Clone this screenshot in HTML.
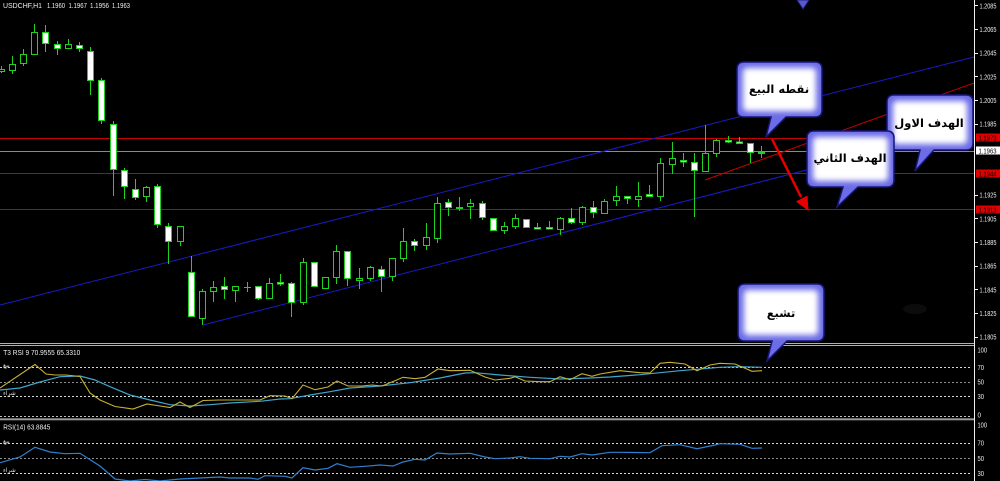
<!DOCTYPE html>
<html><head><meta charset="utf-8"><style>
html,body{margin:0;padding:0;background:#000;}
svg{display:block;}
.ax{font-family:"Liberation Sans",sans-serif;font-size:7.5px;fill:#f0f0f0;}
.ar{font-family:"DejaVu Sans",sans-serif;font-weight:bold;font-size:11.5px;fill:#000;}
.ars{font-family:"DejaVu Sans",sans-serif;font-size:6px;fill:#ddd;}
</style></head><body>
<svg width="1000" height="481" viewBox="0 0 1000 481" xmlns="http://www.w3.org/2000/svg">
<defs>
<filter id="b" x="-30%" y="-30%" width="160%" height="160%"><feGaussianBlur stdDeviation="3"/></filter>
<clipPath id="main"><rect x="0" y="0" width="974" height="343"/></clipPath>
</defs>
<rect width="1000" height="481" fill="#000"/>

<text class="ax" x="3" y="8" textLength="39" lengthAdjust="spacingAndGlyphs">USDCHF,H1</text>
<text class="ax" x="47" y="8" textLength="18" lengthAdjust="spacingAndGlyphs">1.1960</text>
<text class="ax" x="68.5" y="8" textLength="18.5" lengthAdjust="spacingAndGlyphs">1.1967</text>
<text class="ax" x="90" y="8" textLength="19" lengthAdjust="spacingAndGlyphs">1.1956</text>
<text class="ax" x="112" y="8" textLength="18" lengthAdjust="spacingAndGlyphs">1.1963</text>

<g clip-path="url(#main)">
<line x1="0" y1="138.5" x2="974" y2="138.5" stroke="#c40000" stroke-width="1"/>
<line x1="0" y1="151.5" x2="974" y2="151.5" stroke="#8a8a8a" stroke-width="1"/>
<line x1="0" y1="173.5" x2="974" y2="173.5" stroke="#c40000" stroke-width="1"/>
<line x1="0" y1="209.5" x2="974" y2="209.5" stroke="#c40000" stroke-width="1"/>
<line x1="0" y1="305" x2="974" y2="57" stroke="#1a1ac8" stroke-width="1"/>
<line x1="203" y1="325" x2="974" y2="127" stroke="#1a1ac8" stroke-width="1"/>
<line x1="705" y1="180" x2="974" y2="83" stroke="#c40000" stroke-width="1"/>
<ellipse cx="915" cy="309" rx="12" ry="5" fill="#0c0c0c"/>

<g stroke="#1ed21e" stroke-width="1">
<line x1="1.5" y1="66" x2="1.5" y2="73"/>
<line x1="12.5" y1="56" x2="12.5" y2="74"/>
<line x1="23.5" y1="49" x2="23.5" y2="66"/>
<line x1="34.5" y1="24" x2="34.5" y2="55"/>
<line x1="45.5" y1="25" x2="45.5" y2="52"/>
<line x1="57.5" y1="41" x2="57.5" y2="55"/>
<line x1="68.5" y1="39" x2="68.5" y2="49"/>
<line x1="79.5" y1="42" x2="79.5" y2="52"/>
<line x1="90.5" y1="47" x2="90.5" y2="95"/>
<line x1="101.5" y1="78" x2="101.5" y2="124"/>
<line x1="113.5" y1="121" x2="113.5" y2="196"/>
<line x1="124.5" y1="168" x2="124.5" y2="199"/>
<line x1="135.5" y1="179" x2="135.5" y2="200"/>
<line x1="146.5" y1="186" x2="146.5" y2="202"/>
<line x1="157.5" y1="184" x2="157.5" y2="228"/>
<line x1="168.5" y1="223" x2="168.5" y2="264"/>
<line x1="180.5" y1="226" x2="180.5" y2="246"/>
<line x1="191.5" y1="256" x2="191.5" y2="317"/>
<line x1="202.5" y1="289" x2="202.5" y2="325"/>
<line x1="213.5" y1="281" x2="213.5" y2="302"/>
<line x1="224.5" y1="277" x2="224.5" y2="299"/>
<line x1="235.5" y1="286" x2="235.5" y2="302"/>
<line x1="247.5" y1="282" x2="247.5" y2="292"/>
<line x1="258.5" y1="286" x2="258.5" y2="300"/>
<line x1="269.5" y1="278" x2="269.5" y2="299"/>
<line x1="280.5" y1="274" x2="280.5" y2="286"/>
<line x1="291.5" y1="282" x2="291.5" y2="317"/>
<line x1="303.5" y1="258" x2="303.5" y2="305"/>
<line x1="314.5" y1="262" x2="314.5" y2="287"/>
<line x1="325.5" y1="277" x2="325.5" y2="289"/>
<line x1="336.5" y1="245" x2="336.5" y2="284"/>
<line x1="347.5" y1="251" x2="347.5" y2="286"/>
<line x1="359.5" y1="268" x2="359.5" y2="289"/>
<line x1="370.5" y1="266" x2="370.5" y2="281"/>
<line x1="381.5" y1="266" x2="381.5" y2="292"/>
<line x1="392.5" y1="258" x2="392.5" y2="281"/>
<line x1="403.5" y1="228" x2="403.5" y2="262"/>
<line x1="414.5" y1="239" x2="414.5" y2="251"/>
<line x1="426.5" y1="223" x2="426.5" y2="250"/>
<line x1="437.5" y1="197" x2="437.5" y2="243"/>
<line x1="448.5" y1="199" x2="448.5" y2="216"/>
<line x1="459.5" y1="197" x2="459.5" y2="211"/>
<line x1="470.5" y1="199" x2="470.5" y2="219"/>
<line x1="482.5" y1="201" x2="482.5" y2="220"/>
<line x1="493.5" y1="218" x2="493.5" y2="231"/>
<line x1="504.5" y1="222" x2="504.5" y2="234"/>
<line x1="515.5" y1="214" x2="515.5" y2="229"/>
<line x1="526.5" y1="219" x2="526.5" y2="228"/>
<line x1="537.5" y1="223" x2="537.5" y2="229"/>
<line x1="549.5" y1="221" x2="549.5" y2="229"/>
<line x1="560.5" y1="217" x2="560.5" y2="235"/>
<line x1="571.5" y1="208" x2="571.5" y2="224"/>
<line x1="582.5" y1="206" x2="582.5" y2="225"/>
<line x1="593.5" y1="201" x2="593.5" y2="218"/>
<line x1="604.5" y1="199" x2="604.5" y2="214"/>
<line x1="616.5" y1="186" x2="616.5" y2="206"/>
<line x1="627.5" y1="196" x2="627.5" y2="204"/>
<line x1="638.5" y1="182" x2="638.5" y2="207"/>
<line x1="649.5" y1="185" x2="649.5" y2="197"/>
<line x1="660.5" y1="158" x2="660.5" y2="201"/>
<line x1="672.5" y1="142" x2="672.5" y2="174"/>
<line x1="683.5" y1="153" x2="683.5" y2="167"/>
<line x1="694.5" y1="153" x2="694.5" y2="217"/>
<line x1="705.5" y1="125" x2="705.5" y2="172"/>
<line x1="716.5" y1="139" x2="716.5" y2="157"/>
<line x1="728.5" y1="136" x2="728.5" y2="143"/>
<line x1="739.5" y1="137" x2="739.5" y2="144"/>
<line x1="750.5" y1="143" x2="750.5" y2="163"/>
<line x1="761.5" y1="146" x2="761.5" y2="158"/>
<line x1="244" y1="287.5" x2="251" y2="287.5"/>
</g>
<g stroke="#1ed21e" stroke-width="1" fill="#000">
<rect x="-1.5" y="69.5" width="6" height="2"/>
<rect x="9.5" y="64.5" width="6" height="6"/>
<rect x="20.5" y="54.5" width="6" height="9"/>
<rect x="31.5" y="32.5" width="6" height="22"/>
<rect x="65.5" y="44.5" width="6" height="4"/>
<rect x="143.5" y="187.5" width="6" height="9"/>
<rect x="177.5" y="226.5" width="6" height="15"/>
<rect x="199.5" y="291.5" width="6" height="27"/>
<rect x="210.5" y="287.5" width="6" height="4"/>
<rect x="232.5" y="286.5" width="6" height="4"/>
<rect x="266.5" y="283.5" width="6" height="15"/>
<rect x="300.5" y="262.5" width="6" height="40"/>
<rect x="322.5" y="277.5" width="6" height="11"/>
<rect x="333.5" y="251.5" width="6" height="26"/>
<rect x="356.5" y="278.5" width="6" height="2"/>
<rect x="367.5" y="267.5" width="6" height="11"/>
<rect x="389.5" y="258.5" width="6" height="18"/>
<rect x="400.5" y="241.5" width="6" height="17"/>
<rect x="423.5" y="237.5" width="6" height="8"/>
<rect x="434.5" y="203.5" width="6" height="35"/>
<rect x="456.5" y="207.5" width="6" height="1"/>
<rect x="467.5" y="203.5" width="6" height="3"/>
<rect x="501.5" y="226.5" width="6" height="4"/>
<rect x="512.5" y="218.5" width="6" height="8"/>
<rect x="557.5" y="218.5" width="6" height="11"/>
<rect x="579.5" y="207.5" width="6" height="15"/>
<rect x="601.5" y="201.5" width="6" height="12"/>
<rect x="613.5" y="196.5" width="6" height="4"/>
<rect x="635.5" y="196.5" width="6" height="3"/>
<rect x="657.5" y="163.5" width="6" height="33"/>
<rect x="669.5" y="158.5" width="6" height="6"/>
<rect x="702.5" y="153.5" width="6" height="18"/>
<rect x="713.5" y="140.5" width="6" height="13"/>
<rect x="758.5" y="152.5" width="6" height="1"/>
</g>
<g stroke="#1ed21e" stroke-width="1" fill="#fff">
<rect x="42.5" y="32.5" width="6" height="11"/>
<rect x="54.5" y="44.5" width="6" height="4"/>
<rect x="76.5" y="45.5" width="6" height="3"/>
<rect x="87.5" y="51.5" width="6" height="29"/>
<rect x="98.5" y="80.5" width="6" height="40"/>
<rect x="110.5" y="124.5" width="6" height="45"/>
<rect x="121.5" y="170.5" width="6" height="16"/>
<rect x="132.5" y="189.5" width="6" height="8"/>
<rect x="154.5" y="186.5" width="6" height="38"/>
<rect x="165.5" y="226.5" width="6" height="15"/>
<rect x="188.5" y="272.5" width="6" height="44"/>
<rect x="221.5" y="286.5" width="6" height="3"/>
<rect x="255.5" y="286.5" width="6" height="12"/>
<rect x="277.5" y="282.5" width="6" height="1.5"/>
<rect x="288.5" y="283.5" width="6" height="19"/>
<rect x="311.5" y="262.5" width="6" height="24"/>
<rect x="344.5" y="251.5" width="6" height="27"/>
<rect x="378.5" y="269.5" width="6" height="7"/>
<rect x="411.5" y="241.5" width="6" height="4"/>
<rect x="445.5" y="202.5" width="6" height="5"/>
<rect x="479.5" y="203.5" width="6" height="14"/>
<rect x="490.5" y="218.5" width="6" height="12"/>
<rect x="523.5" y="219.5" width="6" height="8"/>
<rect x="534.5" y="227.5" width="6" height="1.5"/>
<rect x="546.5" y="227.5" width="6" height="1.5"/>
<rect x="568.5" y="218.5" width="6" height="4"/>
<rect x="590.5" y="207.5" width="6" height="5"/>
<rect x="624.5" y="196.5" width="6" height="2"/>
<rect x="646.5" y="194.5" width="6" height="2"/>
<rect x="680.5" y="160.5" width="6" height="1.5"/>
<rect x="691.5" y="162.5" width="6" height="8"/>
<rect x="725.5" y="140.5" width="6" height="1.5"/>
<rect x="736.5" y="142" width="6" height="1.5"/>
<rect x="747.5" y="143.5" width="6" height="9"/>
</g>
</g>

<line x1="974.5" y1="0" x2="974.5" y2="481" stroke="#f0f0f0" stroke-width="1"/>
<g stroke="#f0f0f0" stroke-width="1">
<line x1="975" y1="5.5" x2="978" y2="5.5"/><line x1="975" y1="29.5" x2="978" y2="29.5"/>
<line x1="975" y1="53.5" x2="978" y2="53.5"/><line x1="975" y1="76.5" x2="978" y2="76.5"/>
<line x1="975" y1="100.5" x2="978" y2="100.5"/><line x1="975" y1="124.5" x2="978" y2="124.5"/>
<line x1="975" y1="195.5" x2="978" y2="195.5"/><line x1="975" y1="218.5" x2="978" y2="218.5"/>
<line x1="975" y1="242.5" x2="978" y2="242.5"/><line x1="975" y1="266.5" x2="978" y2="266.5"/>
<line x1="975" y1="289.5" x2="978" y2="289.5"/><line x1="975" y1="313.5" x2="978" y2="313.5"/>
<line x1="975" y1="337.5" x2="978" y2="337.5"/>
</g>
<g class="ax">
<text x="979.5" y="8.4" textLength="17" lengthAdjust="spacingAndGlyphs">1.2085</text>
<text x="979.5" y="32" textLength="17" lengthAdjust="spacingAndGlyphs">1.2065</text>
<text x="979.5" y="55.7" textLength="17" lengthAdjust="spacingAndGlyphs">1.2045</text>
<text x="979.5" y="79.4" textLength="17" lengthAdjust="spacingAndGlyphs">1.2025</text>
<text x="979.5" y="103" textLength="17" lengthAdjust="spacingAndGlyphs">1.2005</text>
<text x="979.5" y="126.7" textLength="17" lengthAdjust="spacingAndGlyphs">1.1985</text>
<text x="979.5" y="197.7" textLength="17" lengthAdjust="spacingAndGlyphs">1.1925</text>
<text x="979.5" y="221.3" textLength="17" lengthAdjust="spacingAndGlyphs">1.1905</text>
<text x="979.5" y="245" textLength="17" lengthAdjust="spacingAndGlyphs">1.1885</text>
<text x="979.5" y="268.7" textLength="17" lengthAdjust="spacingAndGlyphs">1.1865</text>
<text x="979.5" y="292.3" textLength="17" lengthAdjust="spacingAndGlyphs">1.1845</text>
<text x="979.5" y="316" textLength="17" lengthAdjust="spacingAndGlyphs">1.1825</text>
<text x="979.5" y="339.7" textLength="17" lengthAdjust="spacingAndGlyphs">1.1805</text>
</g>
<rect x="976" y="133.5" width="24" height="8" fill="#e00000"/>
<text class="ax" x="978.5" y="140.3" textLength="18" lengthAdjust="spacingAndGlyphs" style="fill:#000">1.1973</text>
<rect x="976" y="146.5" width="24" height="8" fill="#fff"/>
<text class="ax" x="978.5" y="153.3" textLength="18" lengthAdjust="spacingAndGlyphs" style="fill:#000">1.1963</text>
<rect x="976" y="169.5" width="24" height="8" fill="#e00000"/>
<text class="ax" x="978.5" y="176.3" textLength="18" lengthAdjust="spacingAndGlyphs" style="fill:#000">1.1944</text>
<rect x="976" y="205.5" width="24" height="8" fill="#e00000"/>
<text class="ax" x="978.5" y="212.3" textLength="18" lengthAdjust="spacingAndGlyphs" style="fill:#000">1.1913</text>

<line x1="0" y1="343.5" x2="974" y2="343.5" stroke="#b0b0b0" stroke-width="1"/>
<line x1="0" y1="345.5" x2="974" y2="345.5" stroke="#b0b0b0" stroke-width="1"/>
<rect x="0" y="418.3" width="974" height="2" fill="#9a9a9a"/>

<text class="ax" x="3.3" y="354.8" textLength="77" lengthAdjust="spacingAndGlyphs">T3 RSI 9 70.9555 65.3310</text>
<g stroke-width="1" stroke-dasharray="2,2">
<line x1="0" y1="367.5" x2="972" y2="367.5" stroke="#d8d8d8"/>
<line x1="0" y1="382.5" x2="972" y2="382.5" stroke="#8c8c8c"/>
<line x1="0" y1="396.5" x2="972" y2="396.5" stroke="#d8d8d8"/>
<line x1="0" y1="416.5" x2="972" y2="416.5" stroke="#c0c0c0"/>
<line x1="0" y1="443.5" x2="972" y2="443.5" stroke="#d8d8d8"/>
<line x1="0" y1="458.5" x2="972" y2="458.5" stroke="#8c8c8c"/>
<line x1="0" y1="473.5" x2="972" y2="473.5" stroke="#d8d8d8"/>
</g>
<text class="ars" x="3" y="367">بيع</text>
<text class="ars" x="3" y="395">شراء</text>
<text class="ars" x="3" y="443">بيع</text>
<text class="ars" x="3" y="472">شراء</text>
<polyline fill="none" stroke="#3fa6cc" stroke-width="1.2" points="0,390 20,388 40,382 60,376.7 80,376 95,380 110,386.7 130,395 150,400 170,404.7 190,406 210,404.7 230,403 260,401.3 280,399 290,398.7 310,395 330,391.7 350,388 380,386 410,382.7 440,378 465,373 475,372.7 500,375 530,377.3 560,379 590,378 610,377 640,374.7 680,370.7 720,367.3 740,366.7 762,367.3"/>
<polyline fill="none" stroke="#c8b032" stroke-width="1.1" points="0,388 35,364.5 46,374 55,375 66,375 80,376.5 90,393 100,400 115,406.5 133,409 147,404 160,406 170,407.5 180,402 190,407.5 203,400.5 220,400 260,400 270,395.7 285,396 292,398.7 303,385 315,389.7 328,387 337,381 348,386 362,386 372,385 382,386 395,380.7 403,377.3 415,378.7 425,377.3 438,369 450,370.7 470,370.3 485,377 495,380 510,378.3 515,376.7 525,381 540,381.7 550,381.7 560,376.7 570,379.7 582,373.7 592,376.3 600,374 620,370.7 640,372.7 650,373 660,363.3 670,362.3 685,364 697,370.7 710,365 720,363.3 735,364 745,368.3 752,371.3 762,370.7"/>

<text class="ax" x="3.3" y="429.5" textLength="47" lengthAdjust="spacingAndGlyphs">RSI(14) 63.8845</text>
<polyline fill="none" stroke="#3080d0" stroke-width="1.2" points="0,462.7 20,457 35,447.3 50,452 65,453.7 80,453.3 100,466 115,479 130,481 145,479.5 160,481 180,479 200,478 220,477 230,478 250,478 258,479.3 265,475.7 285,476.3 292,478 303,467.7 315,470 328,468.3 337,463.7 350,467.3 365,466.3 380,465 393,466 403,462 415,459.3 425,460 437,453 450,454 470,453.3 485,457 495,458.7 510,458 520,456.7 530,458.3 550,458.7 560,456.3 570,457 582,453.7 592,455 610,452.3 620,452.3 650,452.7 662,445.7 680,444.7 697,448.7 715,445 720,443.7 740,444.3 752,448.3 762,448"/>

<g class="ax">
<text x="977.5" y="352.5" textLength="9.5" lengthAdjust="spacingAndGlyphs">100</text>
<text x="977.5" y="370" textLength="6.5" lengthAdjust="spacingAndGlyphs">70</text>
<text x="977.5" y="384.5" textLength="6.5" lengthAdjust="spacingAndGlyphs">50</text>
<text x="977.5" y="399" textLength="6.5" lengthAdjust="spacingAndGlyphs">30</text>
<text x="977.5" y="417.5" textLength="3.5" lengthAdjust="spacingAndGlyphs">0</text>
<text x="977.5" y="427.5" textLength="9.5" lengthAdjust="spacingAndGlyphs">100</text>
<text x="977.5" y="445.5" textLength="6.5" lengthAdjust="spacingAndGlyphs">70</text>
<text x="977.5" y="461" textLength="6.5" lengthAdjust="spacingAndGlyphs">50</text>
<text x="977.5" y="476" textLength="6.5" lengthAdjust="spacingAndGlyphs">30</text>
</g>

<line x1="772" y1="139" x2="801" y2="197" stroke="#e80000" stroke-width="2.5"/>
<polygon points="808.5,211 796,201.5 807.5,195.5" fill="#e80000"/>

<polygon points="797,0 809,0 803,9" fill="#5a5ad0" stroke="#202080" stroke-width="1"/>

<path d="M744,62H815Q822,62 822,69V110Q822,117 815,117H786L766,137L771,117H744Q737,117 737,110V69Q737,62 744,62Z" fill="#6c6ce6"/>
<rect x="743" y="68" width="73" height="43" rx="4" fill="#fff" filter="url(#b)"/>
<path d="M744,62H815Q822,62 822,69V110Q822,117 815,117H786L766,137L771,117H744Q737,117 737,110V69Q737,62 744,62Z" fill="none" stroke="#16167c" stroke-width="1.5"/>
<text class="ar" x="779" y="93" text-anchor="middle">نقطه البيع</text>

<path d="M894,95H966Q973,95 973,102V143Q973,150 966,150H934L915,171L920,150H894Q887,150 887,143V102Q887,95 894,95Z" fill="#6c6ce6"/>
<rect x="893" y="101" width="74" height="43" rx="4" fill="#fff" filter="url(#b)"/>
<path d="M894,95H966Q973,95 973,102V143Q973,150 966,150H934L915,171L920,150H894Q887,150 887,143V102Q887,95 894,95Z" fill="none" stroke="#16167c" stroke-width="1.5"/>
<text class="ar" x="929" y="127" text-anchor="middle">الهدف الاول</text>

<path d="M814,131H887Q894,131 894,138V180Q894,187 887,187H858L837,207L843,187H814Q807,187 807,180V138Q807,131 814,131Z" fill="#6c6ce6"/>
<rect x="813" y="137" width="75" height="44" rx="4" fill="#fff" filter="url(#b)"/>
<path d="M814,131H887Q894,131 894,138V180Q894,187 887,187H858L837,207L843,187H814Q807,187 807,180V138Q807,131 814,131Z" fill="none" stroke="#16167c" stroke-width="1.5"/>
<text class="ar" x="850" y="162" text-anchor="middle">الهدف الثاني</text>

<path d="M745,284H817Q824,284 824,291V334Q824,341 817,341H787L767,361L772,341H745Q738,341 738,334V291Q738,284 745,284Z" fill="#6c6ce6"/>
<rect x="744" y="290" width="74" height="45" rx="4" fill="#fff" filter="url(#b)"/>
<path d="M745,284H817Q824,284 824,291V334Q824,341 817,341H787L767,361L772,341H745Q738,341 738,334V291Q738,284 745,284Z" fill="none" stroke="#16167c" stroke-width="1.5"/>
<text class="ar" x="781" y="317" text-anchor="middle">تشبع</text>
</svg>
</body></html>
